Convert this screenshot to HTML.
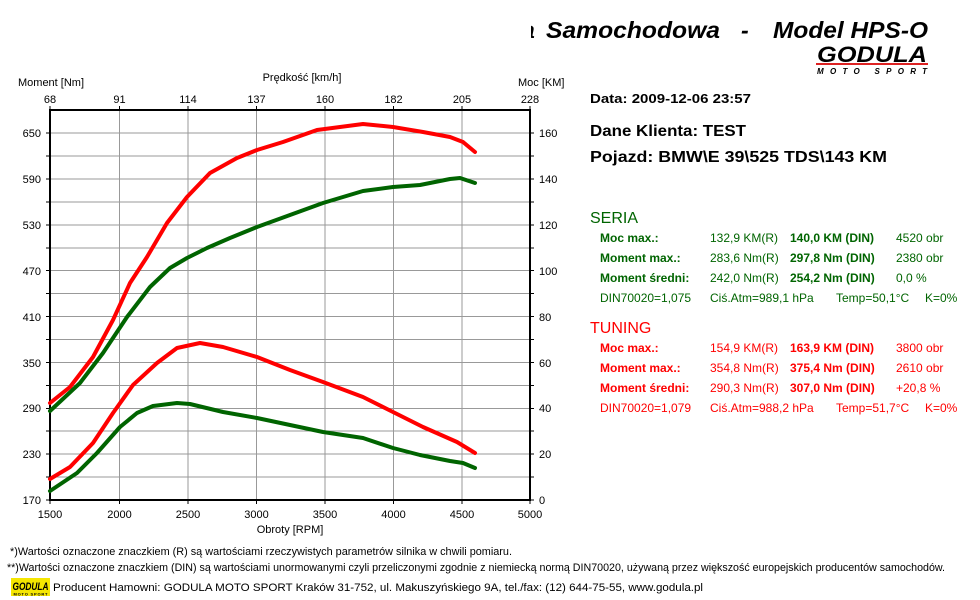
<!DOCTYPE html>
<html><head><meta charset="utf-8"><style>
html,body{margin:0;padding:0;background:#fff;width:980px;height:600px;overflow:hidden}
svg{display:block}
text{font-family:"Liberation Sans","DejaVu Sans",sans-serif}
</style></head><body>
<svg width="980" height="600" viewBox="0 0 980 600" xmlns="http://www.w3.org/2000/svg">
<defs><clipPath id="tc"><rect x="531" y="0" width="449" height="60"/></clipPath></defs>
<text x="522" y="38" font-size="23" font-weight="bold" font-style="italic" clip-path="url(#tc)">a</text>
<text x="546" y="38" font-size="23" font-weight="bold" font-style="italic" textLength="174" lengthAdjust="spacingAndGlyphs">Samochodowa</text>
<text x="741" y="38" font-size="23" font-weight="bold" font-style="italic">-</text>
<text x="773" y="38" font-size="23" font-weight="bold" font-style="italic" textLength="155" lengthAdjust="spacingAndGlyphs">Model HPS-O</text>
<!-- logo -->
<text x="872" y="62" text-anchor="middle" font-size="22" font-weight="bold" font-style="italic" textLength="110" lengthAdjust="spacingAndGlyphs">GODULA</text>
<rect x="816" y="63" width="112" height="2" fill="#d22"/>
<text x="872" y="74" text-anchor="middle" font-size="8" font-weight="bold" font-style="italic" textLength="110" lengthAdjust="spacing">MOTO SPORT</text>

<g font-size="11" fill="#000">
<text x="18" y="86">Moment [Nm]</text>
<text x="302" y="81" text-anchor="middle">Prędkość [km/h]</text>
<text x="518" y="86">Moc [KM]</text>
<text x="290" y="533" text-anchor="middle">Obroty [RPM]</text>
</g>

<g stroke="#999" stroke-width="1">
<line x1="119.5" y1="110" x2="119.5" y2="500"/><line x1="188" y1="110" x2="188" y2="500"/>
<line x1="256.5" y1="110" x2="256.5" y2="500"/><line x1="325" y1="110" x2="325" y2="500"/>
<line x1="393.5" y1="110" x2="393.5" y2="500"/><line x1="462" y1="110" x2="462" y2="500"/>
<line x1="50" y1="133" x2="530" y2="133"/><line x1="50" y1="156" x2="530" y2="156"/>
<line x1="50" y1="179" x2="530" y2="179"/><line x1="50" y1="202" x2="530" y2="202"/>
<line x1="50" y1="225" x2="530" y2="225"/><line x1="50" y1="248" x2="530" y2="248"/>
<line x1="50" y1="270.5" x2="530" y2="270.5"/><line x1="50" y1="293.5" x2="530" y2="293.5"/>
<line x1="50" y1="316.5" x2="530" y2="316.5"/><line x1="50" y1="339.5" x2="530" y2="339.5"/>
<line x1="50" y1="362.5" x2="530" y2="362.5"/><line x1="50" y1="385.5" x2="530" y2="385.5"/>
<line x1="50" y1="408.5" x2="530" y2="408.5"/><line x1="50" y1="431" x2="530" y2="431"/>
<line x1="50" y1="454" x2="530" y2="454"/><line x1="50" y1="477" x2="530" y2="477"/>
</g>
<g stroke="#000" stroke-width="1">
<path d="M46 133H50M46 156H50M46 179H50M46 202H50M46 225H50M46 248H50M46 270.5H50M46 293.5H50M46 316.5H50M46 339.5H50M46 362.5H50M46 385.5H50M46 408.5H50M46 431H50M46 454H50M46 477H50M46 500H50"/>
<path d="M530 133H534M530 156H534M530 179H534M530 202H534M530 225H534M530 248H534M530 270.5H534M530 293.5H534M530 316.5H534M530 339.5H534M530 362.5H534M530 385.5H534M530 408.5H534M530 431H534M530 454H534M530 477H534M530 500H534"/>
<path d="M119.5 500V504M188 500V504M256.5 500V504M325 500V504M393.5 500V504M462 500V504M50 500V504M530 500V504"/>
<path d="M119.5 106V110M188 106V110M256.5 106V110M325 106V110M393.5 106V110M462 106V110M50 106V110M530 106V110"/>
</g>
<rect x="50" y="110" width="480" height="390" fill="none" stroke="#000" stroke-width="2"/>

<g font-size="11" fill="#000" text-anchor="end">
<text x="41" y="137">650</text><text x="41" y="183">590</text><text x="41" y="229">530</text>
<text x="41" y="275">470</text><text x="41" y="321">410</text><text x="41" y="367">350</text>
<text x="41" y="412">290</text><text x="41" y="458">230</text><text x="41" y="504">170</text>
</g>
<g font-size="11" fill="#000">
<text x="539" y="137">160</text><text x="539" y="183">140</text><text x="539" y="229">120</text>
<text x="539" y="275">100</text><text x="539" y="321">80</text><text x="539" y="367">60</text>
<text x="539" y="412">40</text><text x="539" y="458">20</text><text x="539" y="504">0</text>
</g>
<g font-size="11" fill="#000" text-anchor="middle">
<text x="50" y="518">1500</text><text x="119.5" y="518">2000</text><text x="188" y="518">2500</text>
<text x="256.5" y="518">3000</text><text x="325" y="518">3500</text><text x="393.5" y="518">4000</text>
<text x="462" y="518">4500</text><text x="530" y="518">5000</text>
<text x="50" y="103">68</text><text x="119.5" y="103">91</text><text x="188" y="103">114</text>
<text x="256.5" y="103">137</text><text x="325" y="103">160</text><text x="393.5" y="103">182</text>
<text x="462" y="103">205</text><text x="530" y="103">228</text>
</g>

<g fill="none" stroke-width="4" stroke-linejoin="round" stroke-linecap="round">
<polyline stroke="#ff0000" points="50,403 70,387 93,357 113,320 130,283 147,257 167,223 187,197 210,173 237,158 257,150 283,142 317,130 363,124 393,127 423,132 450,137 463,142 475,152"/>
<polyline stroke="#006400" points="50,411 80,383 103,353 127,317 150,287 170,268 187,258 207,248 230,238 257,227 290,215 323,203 363,191 393,187 420,185 450,179 460,178 475,183"/>
<polyline stroke="#ff0000" points="50,479 70,467 93,443 113,413 133,385 157,363 177,348 200,343 223,347 257,357 290,370 323,382 363,397 393,412 423,427 457,442 475,453"/>
<polyline stroke="#006400" points="50,491 77,473 97,453 120,427 137,413 153,406 177,403 190,404 223,412 257,418 290,425 323,432 363,438 393,448 420,455 450,461 463,463 475,468"/>
</g>

<g font-weight="bold" fill="#000">
<text x="590" y="103" font-size="13" textLength="161" lengthAdjust="spacingAndGlyphs">Data: 2009-12-06  23:57</text>
<text x="590" y="136" font-size="16" textLength="156" lengthAdjust="spacingAndGlyphs">Dane Klienta: TEST</text>
<text x="590" y="162" font-size="16" textLength="297" lengthAdjust="spacingAndGlyphs">Pojazd: BMW\E 39\525 TDS\143 KM</text>
</g>
<g fill="#006400" font-size="12">
<text x="590" y="223" font-size="16">SERIA</text>
<g font-weight="bold"><text x="600" y="242">Moc max.:</text><text x="600" y="262">Moment max.:</text><text x="600" y="282">Moment średni:</text></g>
<text x="710" y="242">132,9 KM(R)</text><text x="710" y="262">283,6 Nm(R)</text><text x="710" y="282">242,0 Nm(R)</text>
<g font-weight="bold"><text x="790" y="242">140,0 KM (DIN)</text><text x="790" y="262">297,8 Nm (DIN)</text><text x="790" y="282">254,2 Nm (DIN)</text></g>
<text x="896" y="242">4520 obr</text><text x="896" y="262">2380 obr</text><text x="896" y="282">0,0 %</text>
<text x="600" y="302">DIN70020=1,075</text><text x="710" y="302">Ciś.Atm=989,1 hPa</text><text x="836" y="302">Temp=50,1°C</text><text x="925" y="302">K=0%</text>
</g>
<g fill="#ff0000" font-size="12">
<text x="590" y="333" font-size="16">TUNING</text>
<g font-weight="bold"><text x="600" y="352">Moc max.:</text><text x="600" y="372">Moment max.:</text><text x="600" y="392">Moment średni:</text></g>
<text x="710" y="352">154,9 KM(R)</text><text x="710" y="372">354,8 Nm(R)</text><text x="710" y="392">290,3 Nm(R)</text>
<g font-weight="bold"><text x="790" y="352">163,9 KM (DIN)</text><text x="790" y="372">375,4 Nm (DIN)</text><text x="790" y="392">307,0 Nm (DIN)</text></g>
<text x="896" y="352">3800 obr</text><text x="896" y="372">2610 obr</text><text x="896" y="392">+20,8 %</text>
<text x="600" y="412">DIN70020=1,079</text><text x="710" y="412">Ciś.Atm=988,2 hPa</text><text x="836" y="412">Temp=51,7°C</text><text x="925" y="412">K=0%</text>
</g>

<g font-size="11" fill="#000">
<text x="10" y="555" textLength="502" lengthAdjust="spacingAndGlyphs">*)Wartości oznaczone znaczkiem (R) są wartościami rzeczywistych parametrów silnika w chwili pomiaru.</text>
<text x="7" y="571" textLength="938" lengthAdjust="spacingAndGlyphs">**)Wartości oznaczone znaczkiem (DIN) są wartościami unormowanymi czyli przeliczonymi zgodnie z niemiecką normą DIN70020, używaną przez większość europejskich producentów samochodów.</text>
<text x="53" y="591" textLength="650" lengthAdjust="spacingAndGlyphs">Producent Hamowni: GODULA MOTO SPORT Kraków 31-752, ul. Makuszyńskiego 9A, tel./fax: (12) 644-75-55, www.godula.pl</text>
</g>
<rect x="11" y="578" width="39" height="18" fill="#f5e600"/>
<text x="30.5" y="590" text-anchor="middle" font-size="11" font-weight="bold" font-style="italic" textLength="36" lengthAdjust="spacingAndGlyphs">GODULA</text>
<text x="30.5" y="595.5" text-anchor="middle" font-size="4" font-weight="bold" textLength="34" lengthAdjust="spacing">MOTO SPORT</text>
</svg>
</body></html>
